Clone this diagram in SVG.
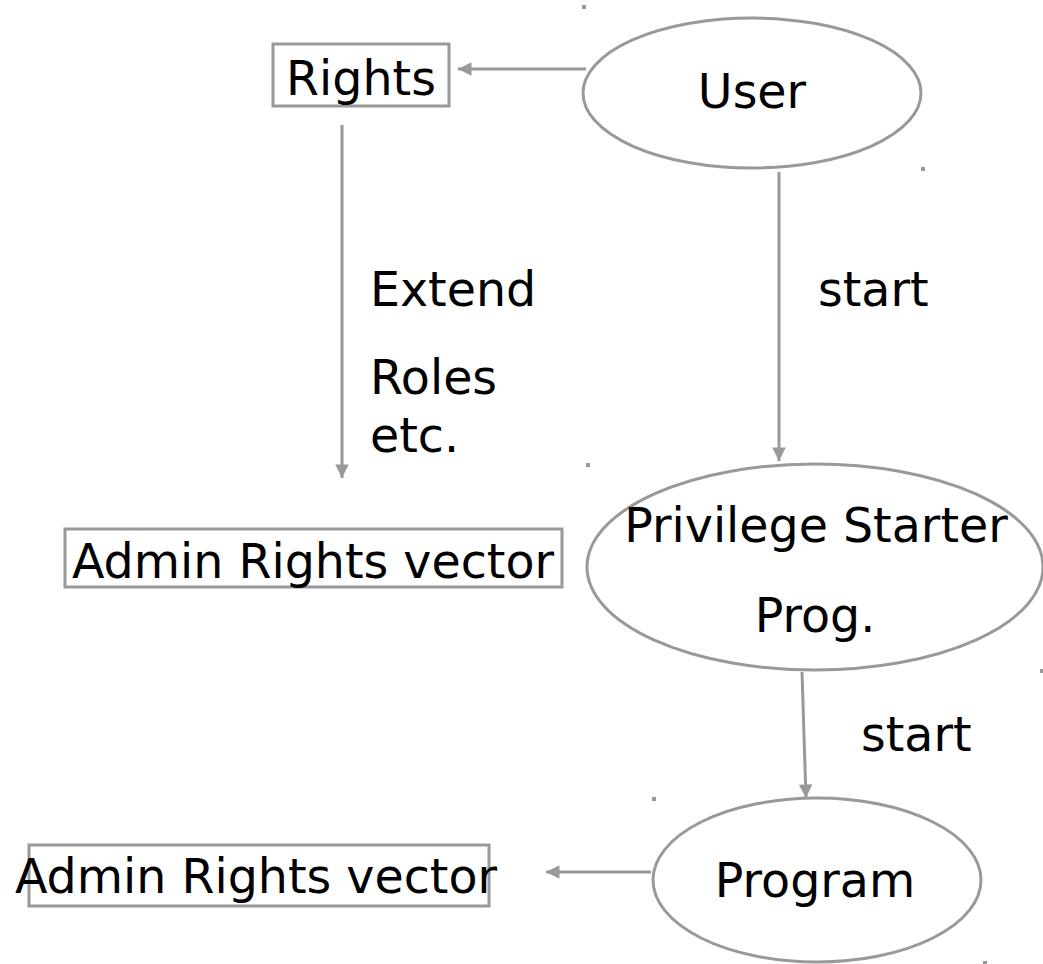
<svg xmlns="http://www.w3.org/2000/svg" width="1043" height="964" viewBox="0 0 1043 964">
<style>
.shape{fill:#fff;stroke:#999;stroke-width:3}
.ln{fill:none;stroke:#999;stroke-width:3}
.t{font-family:"DejaVu Sans",sans-serif;font-size:47.5px;fill:#000}
.dot{fill:#999}
</style>
<defs>
<marker id="ah" viewBox="0 0 10 10" refX="10" refY="5" markerWidth="5" markerHeight="4.5" markerUnits="strokeWidth" orient="auto">
<path d="M0,0 L10,5 L0,10 z" fill="#999"/>
</marker>
</defs>
<rect width="1043" height="964" fill="#fff"/>
<g id="connectors">
<line class="ln" x1="586" y1="69" x2="458" y2="69" marker-end="url(#ah)"/>
<line class="ln" x1="342" y1="125" x2="342" y2="478" marker-end="url(#ah)"/>
<line class="ln" x1="779" y1="172" x2="779" y2="461" marker-end="url(#ah)"/>
<line class="ln" x1="802" y1="672" x2="806" y2="798" marker-end="url(#ah)"/>
<line class="ln" x1="651" y1="872" x2="546" y2="872" marker-end="url(#ah)"/>
<text class="t" x="370" y="306">Extend</text>
<text class="t" x="370" y="394">Roles</text>
<text class="t" x="370" y="452">etc.</text>
<text class="t" x="818" y="306">start</text>
<text class="t" x="861" y="751">start</text>
</g>
<g id="rights">
<rect class="shape" x="273" y="44" width="176" height="62"/>
<text class="t" x="361" y="95" text-anchor="middle">Rights</text>
</g>
<g id="user">
<ellipse class="shape" cx="752" cy="93" rx="169" ry="75"/>
<text class="t" x="752" y="108" text-anchor="middle">User</text>
</g>
<g id="admin1">
<rect class="shape" x="65" y="529" width="497" height="58"/>
<text class="t" x="313" y="578" text-anchor="middle">Admin Rights vector</text>
</g>
<g id="privilege">
<ellipse class="shape" cx="815" cy="567" rx="228" ry="103"/>
<text class="t" x="816" y="542" text-anchor="middle">Privilege Starter</text>
<text class="t" x="815" y="632" text-anchor="middle">Prog.</text>
</g>
<g id="admin2">
<rect class="shape" x="29" y="845" width="460" height="61"/>
<text class="t" x="256" y="893" text-anchor="middle">Admin Rights vector</text>
</g>
<g id="program">
<ellipse class="shape" cx="817" cy="880" rx="164" ry="82"/>
<text class="t" x="815" y="897" text-anchor="middle">Program</text>
</g>
<g id="dots">
<rect class="dot" x="582" y="5" width="4" height="4"/>
<rect class="dot" x="921" y="167" width="4" height="4"/>
<rect class="dot" x="586" y="463" width="4" height="4"/>
<rect class="dot" x="1040" y="669" width="3" height="4"/>
<rect class="dot" x="652" y="797" width="4" height="4"/>
<rect class="dot" x="983" y="961" width="4" height="3"/>
</g>
</svg>
